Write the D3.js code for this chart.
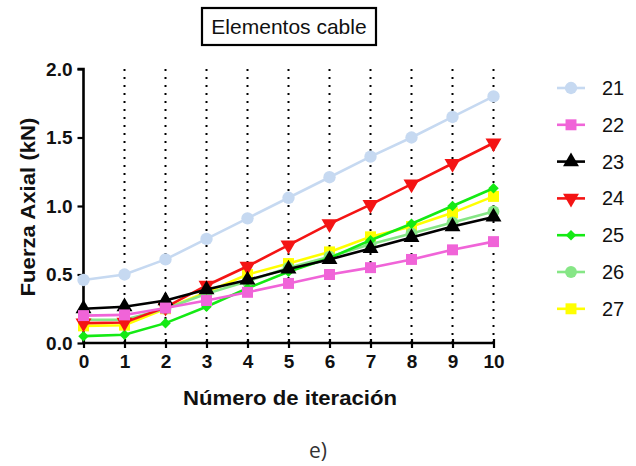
<!DOCTYPE html>
<html><head><meta charset="utf-8">
<script src="https://cdn.jsdelivr.net/npm/d3@7"></script>
<style>body{margin:0;background:#fff;} svg{display:block;}</style>
</head><body>
<svg id="chart" width="636" height="466"></svg>
<script>
const iterations = [0,1,2,3,4,5,6,7,8,9,10];
const seriesNames = ["21","22","23","24","25","26","27"];
const s21 = [0.46,0.50,0.61,0.76,0.91,1.06,1.21,1.36,1.50,1.65,1.80];
const s22 = [0.20,0.205,0.255,0.31,0.37,0.435,0.50,0.55,0.61,0.68,0.74];
const s23 = [0.25,0.265,0.31,0.39,0.46,0.54,0.61,0.69,0.77,0.85,0.92];
const s24 = [0.145,0.15,0.26,0.42,0.56,0.715,0.87,1.01,1.16,1.31,1.46];
const s25 = [0.05,0.06,0.145,0.265,0.40,0.52,0.62,0.75,0.87,1.00,1.13];
const s26 = [0.17,0.17,0.25,0.36,0.45,0.55,0.63,0.72,0.80,0.88,0.96];
const s27 = [0.125,0.13,0.25,0.37,0.50,0.58,0.665,0.775,0.85,0.95,1.07];
const xTicks = [0,1,2,3,4,5,6,7,8,9,10];
const yTicks = [0.0,0.5,1.0,1.5,2.0];

const values = [s21,s22,s23,s24,s25,s26,s27];
const colors = ["#c6d9f1","#f064d8","#000000","#f41414","#14ea14","#86e686","#ffff00"];
const symbols = [d3.symbolCircle,d3.symbolSquare,d3.symbolTriangle,d3.symbolTriangle,d3.symbolSquare,d3.symbolCircle,d3.symbolSquare];
const symSize = [120,120,110,110,55,110,120];
const symRot = [0,0,0,180,45,0,0];

const svg = d3.select("#chart");
const x = d3.scaleLinear().domain([0,10]).range([83.5,493.5]);
const y = d3.scaleLinear().domain([0,2]).range([343,69]);
const FONT = "'Liberation Sans', Arial, sans-serif";

// Title box
svg.append("rect").attr("x",202).attr("y",8).attr("width",174).attr("height",37)
  .attr("fill","none").attr("stroke","#000").attr("stroke-width",2.2);
svg.append("text").attr("x",289).attr("y",34).attr("text-anchor","middle")
  .attr("font-family",FONT).attr("font-size",21).attr("fill","#111")
  .text("Elementos cable");

// Vertical dotted gridlines
svg.append("g").selectAll("line").data(xTicks.filter(d=>d>0)).join("line")
  .attr("x1",d=>x(d)).attr("x2",d=>x(d)).attr("y1",y(2)).attr("y2",y(0))
  .attr("stroke","#000").attr("stroke-width",2).attr("stroke-dasharray","2 6");

// Axes
const yAxis = d3.axisLeft(y).tickValues(yTicks).tickFormat(d3.format(".1f")).tickSize(6).tickPadding(5);
const gy = svg.append("g").attr("transform",`translate(${x(0)},0)`).call(yAxis);
gy.select(".domain").attr("stroke-width",2.6).attr("d",`M-6,${y(2)}H0V${y(0)}`);
gy.selectAll(".tick line").attr("stroke-width",2.2);
gy.selectAll(".tick text").attr("font-family",FONT).attr("font-weight","bold").attr("font-size",19).attr("fill","#111");

const xAxis = d3.axisBottom(x).tickValues(xTicks).tickFormat(d3.format("d")).tickSize(5).tickPadding(7);
const gx = svg.append("g").attr("transform",`translate(0,${y(0)})`).call(xAxis);
gx.select(".domain").attr("stroke-width",2.6).attr("d",`M${x(0)},0H${x(10)}`);
gx.selectAll(".tick line").attr("stroke-width",2.2).attr("y1",-4);
gx.selectAll(".tick text").attr("font-family",FONT).attr("font-weight","bold").attr("font-size",19).attr("fill","#111");

// Axis titles
svg.append("text").attr("x",290).attr("y",405).attr("text-anchor","middle")
  .attr("font-family",FONT).attr("font-weight","bold").attr("font-size",20).attr("fill","#111")
  .attr("textLength",214).attr("lengthAdjust","spacingAndGlyphs")
  .text("Número de iteración");
svg.append("text").attr("transform","translate(35,207) rotate(-90)").attr("text-anchor","middle")
  .attr("font-family",FONT).attr("font-weight","bold").attr("font-size",20).attr("fill","#111")
  .attr("textLength",179).attr("lengthAdjust","spacingAndGlyphs")
  .text("Fuerza Axial (kN)");

// Series (drawn in reverse so first series sits on top)
const line = d3.line().x((d,i)=>x(iterations[i])).y(d=>y(d));
const plot = svg.append("g");
for (let k = values.length-1; k>=0; k--) {
  const g = plot.append("g");
  g.append("path").attr("d",line(values[k])).attr("fill","none")
    .attr("stroke",colors[k]).attr("stroke-width",2.6);
  g.selectAll("path.m").data(values[k]).join("path").attr("class","m")
    .attr("d",d3.symbol().type(symbols[k]).size(symSize[k]))
    .attr("transform",(d,i)=>`translate(${x(iterations[i])},${y(d)}) rotate(${symRot[k]})`)
    .attr("fill",colors[k]);
}

// Legend
const leg = svg.append("g");
seriesNames.forEach((name,k)=>{
  const cy = 88 + k*36.8;
  leg.append("line").attr("x1",557).attr("x2",585).attr("y1",cy).attr("y2",cy)
    .attr("stroke",colors[k]).attr("stroke-width",2.6);
  leg.append("path").attr("d",d3.symbol().type(symbols[k]).size(symSize[k]))
    .attr("transform",`translate(571,${cy}) rotate(${symRot[k]})`).attr("fill",colors[k]);
  leg.append("text").attr("x",602).attr("y",cy+7).attr("font-family",FONT)
    .attr("font-size",20).attr("fill","#111").text(name);
});

// Sub-label
svg.append("text").attr("x",318).attr("y",458).attr("text-anchor","middle")
  .attr("font-family","'Open Sans', 'Noto Sans', sans-serif").attr("font-size",21).attr("fill","#333")
  .text("e)");
</script>
</body></html>
